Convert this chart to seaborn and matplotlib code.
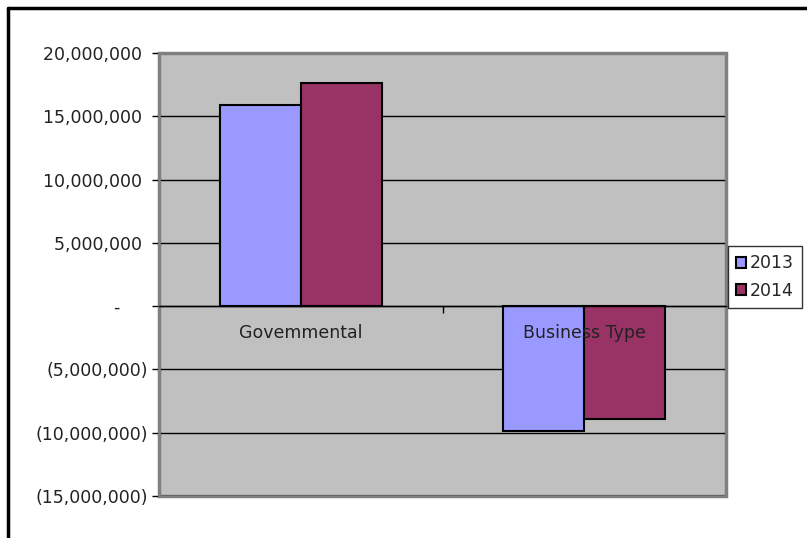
import numpy as np
import pandas as pd
import matplotlib
matplotlib.use('Agg')
import matplotlib.pyplot as plt
import seaborn as sns
from matplotlib.lines import Line2D
from matplotlib.ticker import FuncFormatter, FixedLocator

# Data
categories = ['Govemmental', 'Business Type']
years = ['2013', '2014']
values_2013 = [15_900_000, -9_900_000]
values_2014 = [17_600_000, -8_900_000]
colors = ['#9999FF', '#993366']

df = pd.DataFrame({
    'type': categories * 2,
    'year': [years[0]] * 2 + [years[1]] * 2,
    'value': values_2013 + values_2014,
})

sns.set_style('white')
plt.rcParams['font.family'] = ['DejaVu Sans']
FS = 12.5

fig = plt.figure(figsize=(8.07, 5.38), dpi=100)
ax = fig.add_axes([159 / 807, 1 - 496 / 538, (726 - 159) / 807, (496 - 53) / 538])

sns.barplot(data=df, x='type', y='value', hue='year', palette=colors,
            saturation=1, width=0.57, edgecolor='black', linewidth=1.5,
            ax=ax, zorder=3)

ax.set_ylim(-15_000_000, 20_000_000)
ax.set_xlim(-0.5, 1.5)
ax.set_yticks(np.arange(-15_000_000, 20_000_001, 5_000_000))


def acct(v, pos):
    if abs(v) < 1:
        return '-     '
    if v < 0:
        return f'({abs(v):,.0f})'
    return f'{v:,.0f} '


ax.yaxis.set_major_formatter(FuncFormatter(acct))
ax.tick_params(axis='y', direction='out', length=5, width=1, color='black',
               labelsize=FS, labelcolor='#222222', pad=3, left=True)
ax.grid(axis='y', color='black', linewidth=1)
ax.set_axisbelow(True)
ax.set_facecolor('#C0C0C0')
ax.set_xlabel('')
ax.set_ylabel('')

# plot area frame (gray)
ax.patch.set_edgecolor('#808080')
ax.patch.set_linewidth(2.5)
for side in ['top', 'right', 'left']:
    ax.spines[side].set_visible(True)
    ax.spines[side].set_color('#808080')
    ax.spines[side].set_linewidth(2)
    ax.spines[side].set_zorder(2)

# category axis sits on zero, labels drawn over the bars
ax.spines['bottom'].set_position(('data', 0))
ax.spines['bottom'].set_color('black')
ax.spines['bottom'].set_linewidth(1)
ax.spines['bottom'].set_zorder(4)
ax.xaxis.set_zorder(5)
ax.tick_params(axis='x', which='major', length=0, labelsize=FS,
               labelcolor='#222222', pad=13)
ax.xaxis.set_minor_locator(FixedLocator([0.5]))
ax.tick_params(axis='x', which='minor', direction='out', length=5,
               width=1, color='black', bottom=True)

leg = ax.legend(loc='center left', bbox_to_anchor=(728 / 807, 1 - 277 / 538),
                bbox_transform=fig.transFigure, frameon=True, fancybox=False,
                fontsize=FS, handlelength=0.6, handleheight=0.6,
                handletextpad=0.2, borderpad=0.45, labelspacing=0.55,
                borderaxespad=0)
leg.get_frame().set_edgecolor('black')
leg.get_frame().set_linewidth(1)
for h in leg.legend_handles:
    h.set_edgecolor('black')
    h.set_linewidth(1.5)

# outer chart border (partially visible)
fig.add_artist(Line2D([8 / 807, 8 / 807], [0, 1 - 8 / 538], color='black',
                      linewidth=2.5, transform=fig.transFigure))
fig.add_artist(Line2D([8 / 807, 1], [1 - 8 / 538, 1 - 8 / 538], color='black',
                      linewidth=2.5, transform=fig.transFigure))

fig.savefig('out.png', dpi=100)
